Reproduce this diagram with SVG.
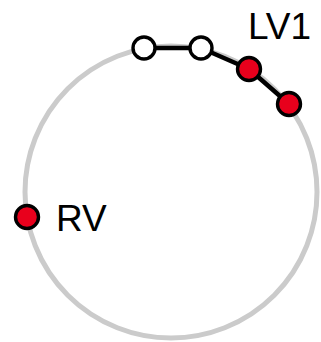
<svg xmlns="http://www.w3.org/2000/svg" width="321" height="342" viewBox="0 0 321 342">
<style>
.ring{fill:none;stroke:#cbcbcb;stroke-width:5}
.edge{fill:none;stroke:#000;stroke-width:4.5;stroke-linejoin:round}
.dot{stroke:#000;stroke-width:3.4}
.on{fill:#e8001c}
.off{fill:#fff}
.lbl{font-family:"Liberation Sans",Arial,sans-serif;font-size:37px;fill:#000}
</style>
<rect width="321" height="342" fill="#fff"/>
<circle class="ring" cx="171" cy="192" r="146"/>
<g id="connectors">
<polyline class="edge" points="144,48 201,48 249,69 289,104"/>
</g>
<g id="n1"><circle class="dot off" cx="144" cy="48" r="11"/></g>
<g id="n2"><circle class="dot off" cx="201" cy="48" r="11"/></g>
<g id="n3"><circle class="dot on" cx="249" cy="69" r="11.5"/></g>
<g id="n4"><circle class="dot on" cx="289" cy="104" r="11.5"/></g>
<g id="rv"><circle class="dot on" cx="27" cy="217" r="11.5"/></g>
<text class="lbl" x="248" y="39">LV1</text>
<text class="lbl" x="56" y="231">RV</text>
</svg>
